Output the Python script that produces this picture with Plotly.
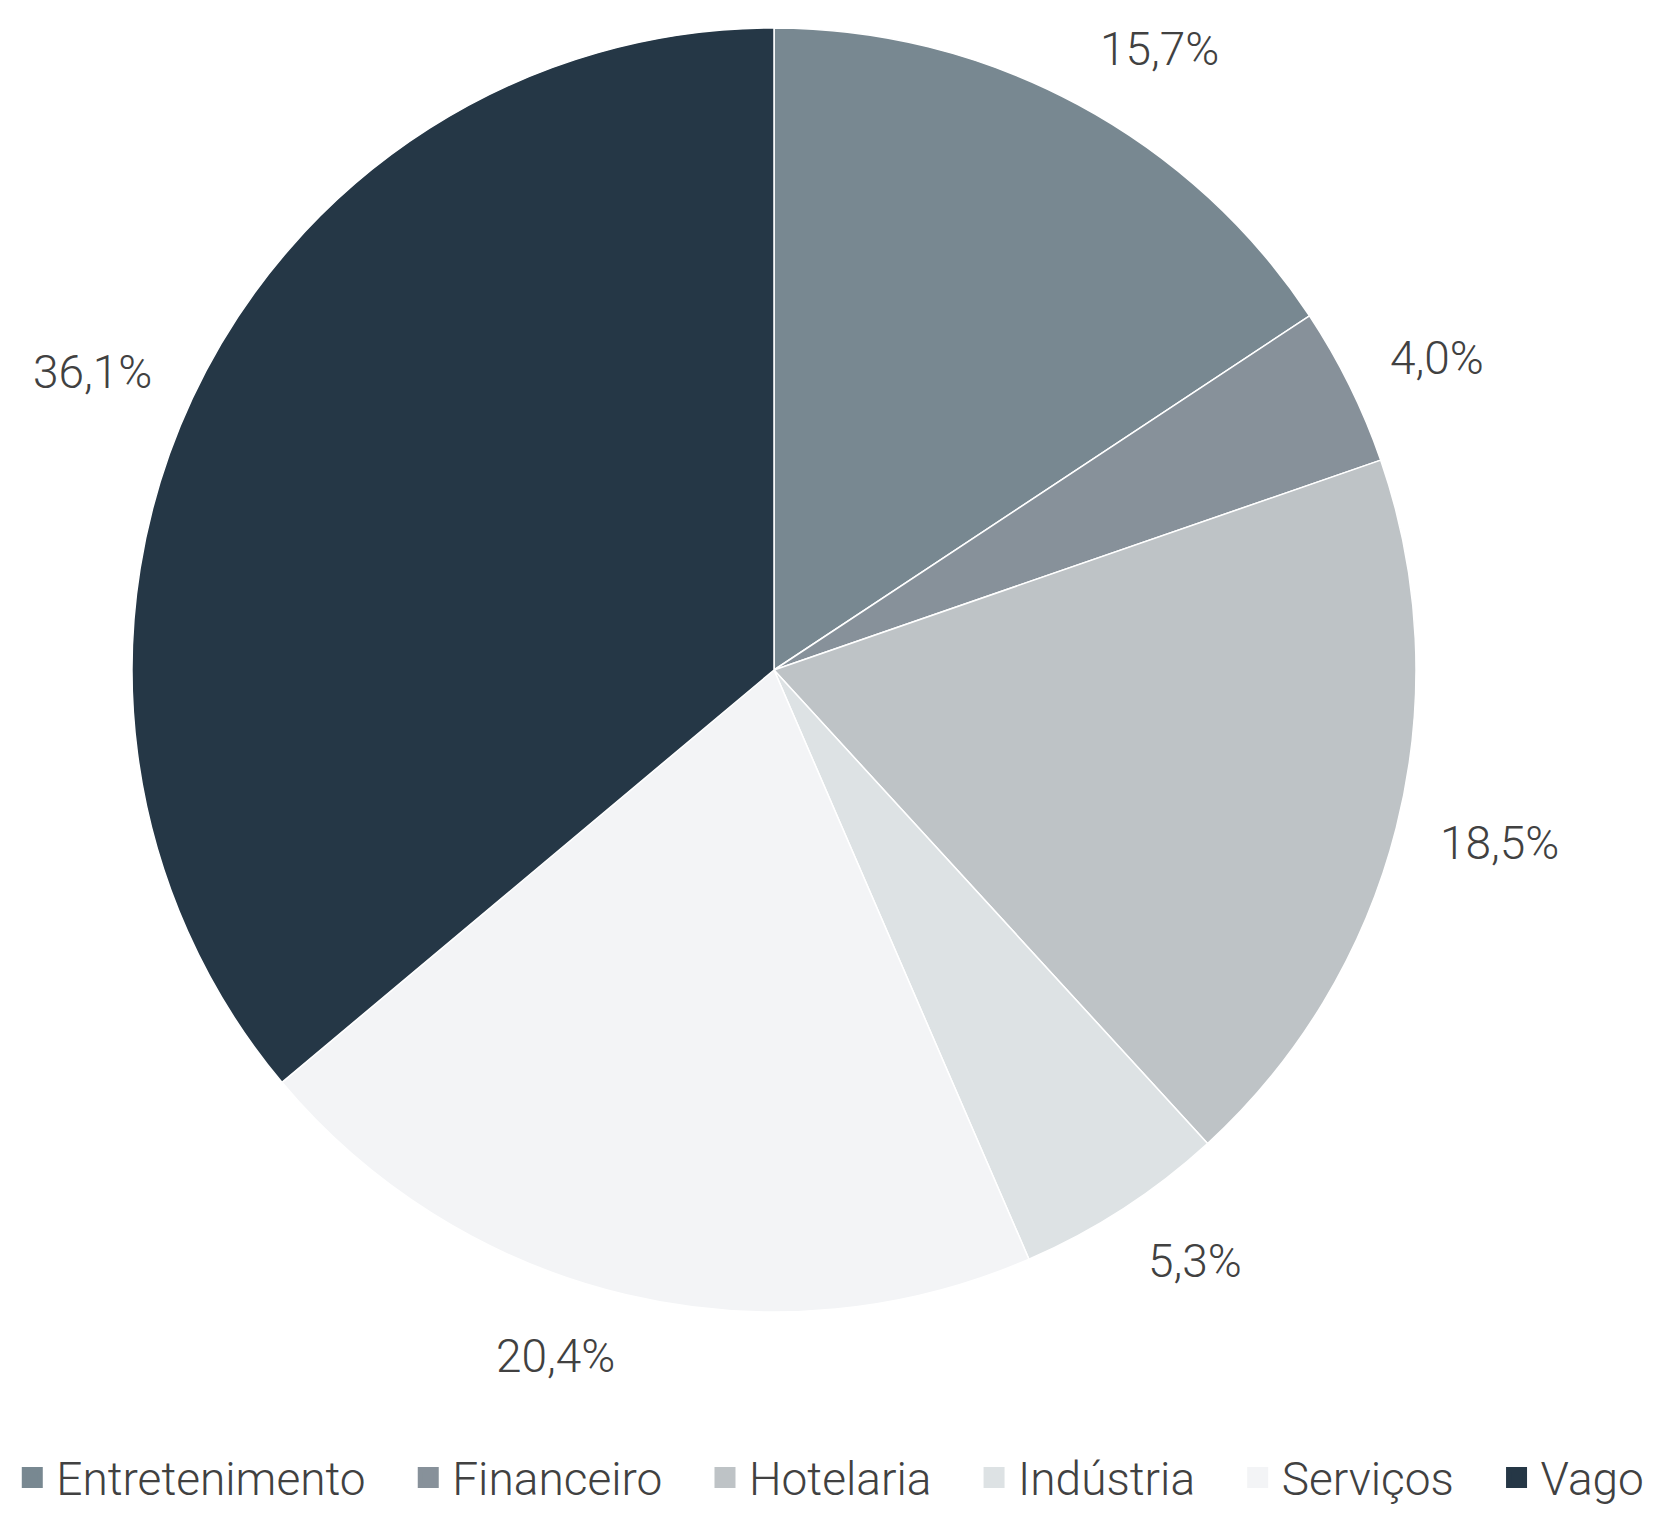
import math
import plotly.graph_objects as go

categories = ["Entretenimento", "Financeiro", "Hotelaria", "Indústria", "Serviços", "Vago"]
values = [15.7, 4.0, 18.5, 5.3, 20.4, 36.1]
colors = ["#788891", "#87919a", "#bec3c6", "#dde2e4", "#f3f4f6", "#253746"]

W, H = 1656, 1514
CX, CY, R = 774, 670, 642
LABEL_DIST = 1.068 * R
V_SHIFT = 19
FONT = "Roboto, DejaVu Sans Condensed, sans-serif"
TXT = "#414141"
FS = 46

fig = go.Figure()
fig.add_trace(go.Pie(
    labels=categories,
    values=values,
    marker=dict(colors=colors, line=dict(color="white", width=1.5)),
    sort=False,
    direction="clockwise",
    rotation=0,
    textinfo="none",
    hoverinfo="label+percent",
    showlegend=False,
    domain=dict(x=[(CX - R) / W, (CX + R) / W], y=[1 - (CY + R) / H, 1 - (CY - R) / H]),
))

# legend entries (square swatches); extra spacing after all but the last entry
for i, (cat, col) in enumerate(zip(categories, colors)):
    pad = "\u00a0" * 3 if i < len(categories) - 1 else ""
    fig.add_trace(go.Scatter(
        x=[None], y=[None], mode="markers", name=cat + pad,
        marker=dict(symbol="square", size=16, color=col, line=dict(color=col, width=5)),
        hoverinfo="skip", showlegend=True,
    ))

total = sum(values)
cum = 0.0
annotations = []
for v in values:
    mid = (cum + v / 2) / total * 2 * math.pi
    cum += v
    s, c = math.sin(mid), math.cos(mid)
    px = CX + LABEL_DIST * s
    py = CY - LABEL_DIST * c - V_SHIFT * c
    xanchor = "left" if s > 0.15 else ("right" if s < -0.15 else "center")
    annotations.append(dict(
        x=px / W, y=1 - py / H, xref="paper", yref="paper",
        text=f"{v:.1f}%".replace(".", ","), showarrow=False,
        font=dict(family=FONT, size=FS, color=TXT, weight=300),
        xanchor=xanchor, yanchor="middle", borderpad=0,
    ))

fig.update_layout(
    width=W, height=H,
    margin=dict(l=0, r=0, t=0, b=0, autoexpand=False),
    paper_bgcolor="white", plot_bgcolor="white",
    font=dict(family=FONT, color=TXT, weight=300),
    xaxis=dict(visible=False), yaxis=dict(visible=False),
    showlegend=True,
    legend=dict(
        orientation="h", x=0.005, xanchor="left", y=0.0, yanchor="bottom",
        font=dict(family=FONT, size=FS, color=TXT, weight=300),
        itemclick=False, itemdoubleclick=False, traceorder="normal",
        itemsizing="trace", itemwidth=38,
    ),
    annotations=annotations,
)

fig.write_html("out.html", config={"displayModeBar": False},
               post_script="document.body.style.margin='0';")
